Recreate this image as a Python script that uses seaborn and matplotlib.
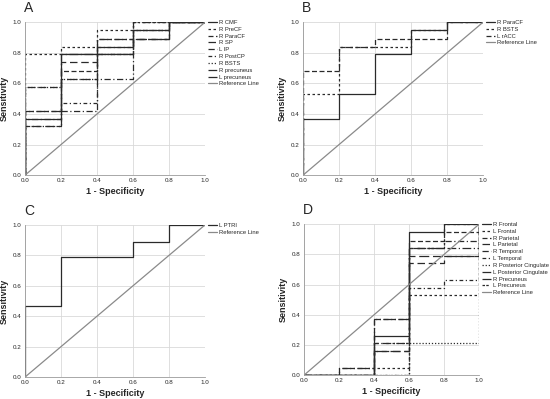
import pandas as pd
import matplotlib
matplotlib.use('Agg')
from matplotlib import pyplot as plt
import seaborn as sns

# ROC step levels: sensitivity on each 1-specificity interval
# [0,.2], [.2,.4], [.4,.6], [.6,.8], [.8,1.0]
fpr = [0.0, 0.2, 0.4, 0.6, 0.8, 1.0]

names_a = ['R CMF', 'R PreCF', 'R ParaCF', 'R SP', 'L IP', 'R PostCP',
           'R BSTS', 'R precuneus', 'L precuneus']
sens_a = [
    [0.37, 0.79, 0.84, 0.95, 1.00],
    [0.79, 0.84, 0.95, 1.00, 1.00],
    [0.42, 0.68, 0.89, 0.95, 1.00],
    [0.58, 0.74, 0.79, 0.89, 1.00],
    [0.37, 0.42, 0.63, 0.89, 1.00],
    [0.32, 0.47, 0.84, 1.00, 1.00],
    [0.58, 0.63, 0.79, 0.95, 1.00],
    [0.42, 0.79, 0.89, 1.00, 1.00],
    [0.32, 0.63, 0.79, 0.89, 1.00],
]

names_b = ['R ParaCF', 'R BSTS', 'L rACC']
sens_b = [
    [0.37, 0.53, 0.79, 0.95, 1.00],
    [0.53, 0.84, 0.84, 0.95, 1.00],
    [0.68, 0.84, 0.89, 0.89, 1.00],
]

names_c = ['L PTRI']
sens_c = [
    [0.47, 0.79, 0.79, 0.89, 1.00],
]

names_d = ['R Frontal', 'L Frontal', 'R Parietal', 'L Parietal', 'R Temporal',
           'L Temporal', 'R Posterior Cingulate', 'L Posterior Cingulate',
           'R Precuneus', 'L Precuneus']
sens_d = [
    [0.0, 0.00, 0.26, 0.95, 1.00],
    [0.0, 0.00, 0.05, 0.53, 0.53],
    [0.0, 0.05, 0.37, 0.89, 0.95],
    [0.0, 0.00, 0.16, 0.74, 0.79],
    [0.0, 0.00, 0.21, 0.84, 0.89],
    [0.0, 0.00, 0.00, 0.58, 0.63],
    [0.0, 0.00, 0.00, 0.21, 0.21],
    [0.0, 0.05, 0.37, 0.84, 0.84],
    [0.0, 0.00, 0.16, 0.79, 0.79],
    [0.0, 0.00, 0.21, 0.84, 1.00],
]

styles = ['-', (0, (2, 2)), (0, (4, 2)), (0, (6, 3)), (0, (5, 2, 1, 2)),
          (0, (3, 2, 1, 2)), (0, (1, 1.5)), (0, (7, 2, 1, 2)), (0, (8, 3)),
          (0, (2, 1, 2, 3))]

sns.set_style('whitegrid')
plt.rcParams['font.family'] = ['Liberation Sans', 'DejaVu Sans']

fig = plt.figure(figsize=(5.5, 3.99), dpi=100)
boxes = {'A': [0.0455, 0.561, 0.327, 0.383],
         'B': [0.551, 0.561, 0.327, 0.383],
         'C': [0.0455, 0.055, 0.327, 0.381],
         'D': [0.553, 0.060, 0.318, 0.378]}
panels = {'A': (names_a, sens_a), 'B': (names_b, sens_b),
          'C': (names_c, sens_c), 'D': (names_d, sens_d)}


def roc_panel(ax, names, sens):
    for i, (n, s) in enumerate(zip(names, sens)):
        df = pd.DataFrame({'x': [0.0] + fpr, 'y': [0.0] + s + [1.0]})
        sns.lineplot(x='x', y='y', data=df, ax=ax, estimator=None, sort=False,
                     drawstyle='steps-post', color='#2a2a2a', lw=0.9,
                     linestyle=styles[i % len(styles)], label=n)
    ref = pd.DataFrame({'x': [0.0, 1.0], 'y': [0.0, 1.0]})
    sns.lineplot(x='x', y='y', data=ref, ax=ax, color='#8a8a8a', lw=0.9,
                 label='Reference Line')
    ax.set_xlim(0, 1)
    ax.set_ylim(0, 1)
    ax.set_xticks([0, 0.2, 0.4, 0.6, 0.8, 1.0])
    ax.set_yticks([0, 0.2, 0.4, 0.6, 0.8, 1.0])
    ax.set_xticklabels(['0.0', '0.2', '0.4', '0.6', '0.8', '1.0'])
    ax.set_yticklabels(['0.0', '0.2', '0.4', '0.6', '0.8', '1.0'])
    ax.tick_params(axis='x', labelsize=4.5, pad=2, length=0)
    ax.tick_params(axis='y', labelsize=4.5, pad=2.5, length=0)
    ax.grid(color='#d9d9d9', lw=0.6)
    for sp in ['top', 'right']:
        ax.spines[sp].set_visible(False)
    for sp in ['left', 'bottom']:
        ax.spines[sp].set_color('#9a9a9a')
        ax.spines[sp].set_linewidth(0.6)
    ax.set_xlabel('1 - Specificity', fontsize=6.5, fontweight='bold', labelpad=3)
    ax.set_ylabel('Sensitivity', fontsize=6.5, fontweight='bold', labelpad=3)
    ax.legend(loc='upper left', bbox_to_anchor=(1.0, 1.035), frameon=False,
              fontsize=4.2, handlelength=1.6, handletextpad=0.25,
              labelspacing=0.3, borderaxespad=0.1)


for key, (names, sens) in panels.items():
    ax = fig.add_axes(boxes[key])
    roc_panel(ax, names, sens)
    b = boxes[key]
    fig.text(b[0] - 0.002, b[1] + b[3] + 0.035, key, fontsize=10,
             ha='left', va='center')

plt.savefig('out.png', dpi=100)
